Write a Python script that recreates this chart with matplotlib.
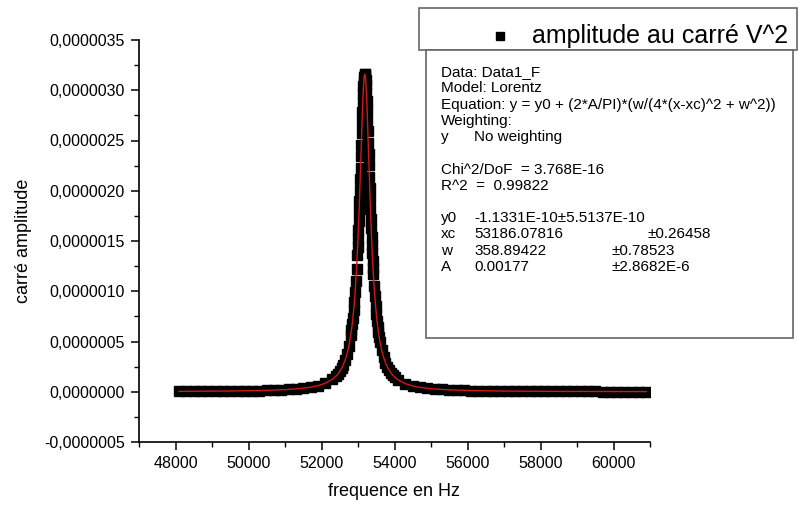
import numpy as np
import matplotlib.pyplot as plt
from matplotlib.ticker import FuncFormatter, MultipleLocator
from matplotlib.patches import Rectangle

plt.rcParams['font.family'] = ['Liberation Sans', 'DejaVu Sans']

freq_left = [48100, 48300, 48500, 48700, 48900, 49100, 49300, 49500, 49700, 49900,
             50100, 50300, 50500, 50700, 50900, 51100, 51300, 51500, 51700, 51900,
             52100, 52300]
amp_left = [0.0039, 0.0043, 0.0046, 0.0051, 0.0055, 0.0061, 0.0067, 0.0075, 0.0084, 0.0094,
            0.0107, 0.0122, 0.0141, 0.0164, 0.0194, 0.0232, 0.0284, 0.0354, 0.0455, 0.0604,
            0.0840, 0.1246]

freq_rise = [52400, 52450, 52500, 52550, 52600, 52650, 52700, 52750,
             52800, 52820, 52840, 52860, 52880, 52900, 52920, 52940, 52960]
amp_rise = [0.157, 0.177, 0.203, 0.233, 0.271, 0.319, 0.379, 0.458,
            0.562, 0.613, 0.670, 0.735, 0.809, 0.893, 0.989, 1.098, 1.222]

freq_peak = [52980, 52990, 53000, 53010, 53020, 53030, 53040, 53050, 53060, 53070,
             53080, 53090, 53100, 53110, 53120, 53130, 53140, 53150, 53160, 53170,
             53180, 53190, 53200, 53210, 53220, 53230, 53240, 53250, 53260, 53270,
             53280, 53290, 53300, 53310, 53320, 53330, 53340, 53350, 53360, 53370,
             53380, 53390, 53400, 53410, 53420]
amp_peak = [1.364, 1.441, 1.524, 1.611, 1.703, 1.800, 1.902, 2.008, 2.117, 2.229,
            2.343, 2.457, 2.570, 2.680, 2.784, 2.880, 2.965, 3.038, 3.095, 3.135,
            3.157, 3.158, 3.141, 3.104, 3.050, 2.981, 2.898, 2.804, 2.701, 2.592,
            2.480, 2.366, 2.252, 2.139, 2.029, 1.923, 1.820, 1.722, 1.629, 1.541,
            1.457, 1.379, 1.305, 1.236, 1.171]

freq_fall = [53440, 53460, 53480, 53500, 53520, 53540, 53560, 53580, 53600,
             53650, 53700, 53750, 53800, 53850, 53900, 53950, 54000]
amp_fall = [1.053, 0.949, 0.858, 0.778, 0.708, 0.646, 0.592, 0.543, 0.500,
            0.411, 0.344, 0.291, 0.249, 0.215, 0.188, 0.165, 0.147]

freq_right = [54100, 54300, 54500, 54700, 54900, 55100, 55300, 55500, 55700, 55900,
              56100, 56300, 56500, 56700, 56900, 57100, 57300, 57500, 57700, 57900,
              58100, 58300, 58500, 58700, 58900, 59100, 59300, 59500, 59700, 59900,
              60100, 60300, 60500, 60700, 60900]
amp_right = [0.1174, 0.0800, 0.0579, 0.0438, 0.0343, 0.0276, 0.0226, 0.0189, 0.0160, 0.0138,
             0.0119, 0.0105, 0.0093, 0.0082, 0.0074, 0.0066, 0.0060, 0.0055, 0.0050, 0.0046,
             0.0042, 0.0039, 0.0036, 0.0033, 0.0031, 0.0029, 0.0027, 0.0026, 0.0024, 0.0023,
             0.0021, 0.0020, 0.0019, 0.0018, 0.0017]

freq = freq_left + freq_rise + freq_peak + freq_fall + freq_right
amp = np.array(amp_left + amp_rise + amp_peak + amp_fall + amp_right) * 1e-6

legend_label = "amplitude au carré V^2"
header_lines = ["Data: Data1_F",
                "Model: Lorentz",
                "Equation: y = y0 + (2*A/PI)*(w/(4*(x-xc)^2 + w^2))",
                "Weighting:"]
weight_row = ["y", "No weighting"]
chi_line = "Chi^2/DoF  = 3.768E-16"
r2_line = "R^2  =  0.99822"
param_names = ["y0", "xc", "w", "A"]
param_values = ["-1.1331E-10\u00b15.5137E-10", "53186.07816", "358.89422", "0.00177"]
param_errors = ["", "\u00b10.26458", "\u00b10.78523", "\u00b12.8682E-6"]
error_cols = [0, 648, 611, 611]

W, H = 800, 507
fig = plt.figure(figsize=(8, 5.07), dpi=100)
ax = fig.add_axes([139 / W, 65 / H, 511 / W, 402 / H])

ax.plot(freq, amp, 's', color='black', markersize=6.5, zorder=2)
ax.plot(freq, amp, '-', color='#d01818', lw=1.0, zorder=3)

ax.set_xlim(47000, 61000)
ax.set_ylim(-5e-7, 3.5e-6)
ax.xaxis.set_major_locator(MultipleLocator(2000))
ax.xaxis.set_minor_locator(MultipleLocator(1000))
ax.yaxis.set_major_locator(MultipleLocator(5e-7))
ax.yaxis.set_minor_locator(MultipleLocator(2.5e-7))
ax.yaxis.set_major_formatter(FuncFormatter(lambda v, p: ("%.7f" % v).replace('.', ',')))

for s in ['top', 'right']:
    ax.spines[s].set_visible(False)
for s in ['left', 'bottom']:
    ax.spines[s].set_linewidth(1.2)
ax.tick_params(which='major', direction='out', length=6, width=1.1, labelsize=11.5, pad=4)
ax.tick_params(which='minor', direction='out', length=3.5, width=1.0)

ax.set_xlabel("frequence en Hz", fontsize=13, labelpad=9)
ax.set_ylabel("carré amplitude", fontsize=13, labelpad=9)

def fx(px):
    return px / W

def fy(py):
    return 1 - py / H

# legend box
fig.patches.append(Rectangle((fx(419), fy(50)), 378 / W, 42 / H, transform=fig.transFigure,
                             facecolor='white', edgecolor='#666666', lw=1.2, zorder=5))
fig.lines.append(plt.Line2D([fx(500)], [fy(36)], marker='s', color='black', markersize=6,
                            transform=fig.transFigure, zorder=6))
fig.text(fx(532), fy(36), legend_label, fontsize=18, va='center', ha='left', zorder=6)

# fit results box
fig.patches.append(Rectangle((fx(426), fy(338)), 367 / W, 288 / H, transform=fig.transFigure,
                             facecolor='white', edgecolor='#666666', lw=1.2, zorder=5))
fs = 11
step = 16.3
for i, line in enumerate(header_lines):
    fig.text(fx(441), fy(72 + i * step), line, fontsize=fs, va='center', zorder=6)
fig.text(fx(441), fy(72 + 4 * step), weight_row[0], fontsize=fs, va='center', zorder=6)
fig.text(fx(474), fy(72 + 4 * step), weight_row[1], fontsize=fs, va='center', zorder=6)
fig.text(fx(441), fy(170), chi_line, fontsize=fs, va='center', zorder=6)
fig.text(fx(441), fy(186), r2_line, fontsize=fs, va='center', zorder=6)
for i in range(4):
    yy = fy(218 + i * step)
    fig.text(fx(441), yy, param_names[i], fontsize=fs, va='center', zorder=6)
    fig.text(fx(474), yy, param_values[i], fontsize=fs, va='center', zorder=6)
    if param_errors[i]:
        fig.text(fx(error_cols[i]), yy, param_errors[i], fontsize=fs, va='center', zorder=6)

fig.savefig("out.png", dpi=100)
